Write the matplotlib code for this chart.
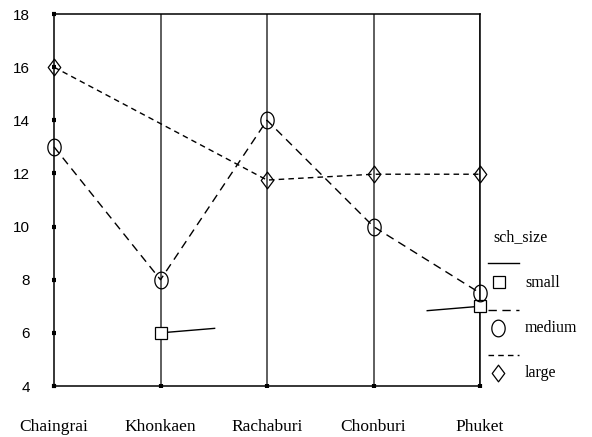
import numpy as np
import matplotlib.pyplot as plt
from matplotlib.path import Path

cities = ["Chaingrai", "Khonkaen", "Rachaburi", "Chonburi", "Phuket"]
small = [np.nan, 6.0, np.nan, np.nan, 7.0]
medium = [13.0, 8.0, 14.0, 10.0, 7.5]
large = [16.0, np.nan, 11.75, 11.97, 11.97]
yticks = [4, 6, 8, 10, 12, 14, 16, 18]

W, H = 592, 437

# open markers a bit taller than wide, as in the original
t = np.linspace(0, 2 * np.pi, 40)
ellipse = Path(np.column_stack([0.8 * np.cos(t), np.sin(t)]), closed=True)
diamond = Path([(0, 1), (0.75, 0), (0, -1), (-0.75, 0), (0, 1)], closed=True)
square = "s"

serif = "Liberation Serif"
sans = "Liberation Sans"


def main():
    fig = plt.figure(figsize=(W / 100, H / 100), dpi=100)
    ax = fig.add_axes([54 / W, 1 - 386 / H, (480 - 54) / W, (386 - 14) / H])
    x = np.arange(len(cities))

    for xi in x[1:]:
        ax.axvline(xi, color="#333333", lw=1.1, zorder=1)

    # small: line between its two values, only the ends are drawn
    xs = [i for i, v in enumerate(small) if not np.isnan(v)]
    ys = [v for v in small if not np.isnan(v)]
    ax.plot(xs, ys, color="black", lw=1, linestyle=(0, (39.6, 152.6)), zorder=2)
    ax.plot(xs, ys, linestyle="none", marker=square, ms=8.5, mfc="white",
            mec="black", mew=0.9, zorder=3, clip_on=False)

    ax.plot(x, medium, color="black", lw=1, linestyle=(0, (6, 4)), marker=ellipse,
            ms=12, mfc="none", mec="black", mew=0.9, zorder=3, clip_on=False)

    xl = [i for i, v in enumerate(large) if not np.isnan(v)]
    yl = [v for v in large if not np.isnan(v)]
    ax.plot(xl, yl, color="black", lw=1, linestyle=(0, (4, 3)), marker=diamond,
            ms=12, mfc="none", mec="black", mew=0.9, zorder=3, clip_on=False)

    ax.set_xlim(0, 4)
    ax.set_ylim(4, 18)
    ax.set_yticks(yticks)
    ax.set_xticks(x)
    ax.set_xticklabels(cities, fontfamily=serif, fontsize=12.5)
    ax.set_yticklabels([str(v) for v in yticks], fontfamily=sans, fontsize=11)
    ax.tick_params(axis="both", direction="inout", length=3, width=3, color="black")
    ax.tick_params(axis="x", pad=22)
    ax.tick_params(axis="y", pad=16)
    for s in ax.spines.values():
        s.set_linewidth(1.1)
        s.set_color("black")

    # legend drawn in pixel coordinates on an overlay
    lg = fig.add_axes([0, 0, 1, 1])
    lg.set_xlim(0, W)
    lg.set_ylim(H, 0)
    lg.axis("off")
    lg.text(493, 237, "sch_size", fontfamily=serif, fontsize=11.5, va="center")
    lg.plot([488, 519], [263, 263], color="black", lw=1)
    lg.plot(499, 282, marker=square, ms=8.5, mfc="none", mec="black", mew=0.9)
    lg.text(525, 283, "small", fontfamily=serif, fontsize=11.5, va="center")
    lg.plot([488, 519], [310, 310], color="black", lw=1, linestyle=(0, (6, 4)))
    lg.plot(498, 328, marker=ellipse, ms=12, mfc="none", mec="black", mew=0.9)
    lg.text(525, 328, "medium", fontfamily=serif, fontsize=11.5, va="center")
    lg.plot([488, 519], [355, 355], color="black", lw=1, linestyle=(0, (4, 3)))
    lg.plot(498, 373, marker=diamond, ms=12, mfc="none", mec="black", mew=0.9)
    lg.text(525, 373, "large", fontfamily=serif, fontsize=11.5, va="center")

    fig.savefig("out.png", dpi=100)


if __name__ == '__main__':
    main()
